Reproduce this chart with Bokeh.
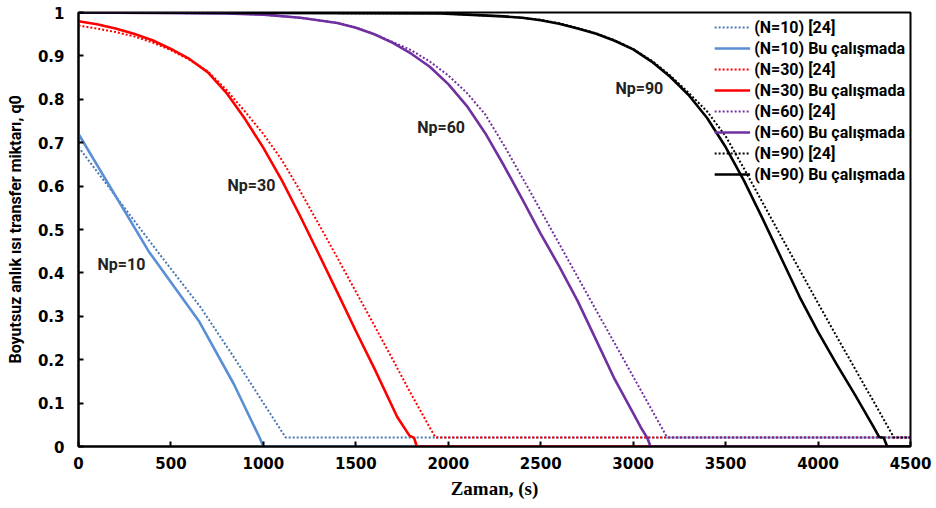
from bokeh.plotting import figure
from bokeh.models import Range1d, FixedTicker, Legend, LegendItem, ColumnDataSource
from bokeh.core.properties import value
from bokeh.embed import file_html
from bokeh.resources import INLINE

# ---------------- data ----------------
x_ticks = [0, 500, 1000, 1500, 2000, 2500, 3000, 3500, 4000, 4500]
y_ticks = [0.0, 0.1, 0.2, 0.3, 0.4, 0.5, 0.6, 0.7, 0.8, 0.9, 1.0]
y_tick_labels = ["0", "0.1", "0.2", "0.3", "0.4", "0.5", "0.6", "0.7", "0.8", "0.9", "1"]

# N=10
t10_ref = [0, 426, 660, 840, 1120, 4500]
q10_ref = [0.69, 0.45, 0.321, 0.206, 0.021, 0.021]
t10 = [0, 379, 650, 840, 980, 1000, 4500]
q10 = [0.72, 0.45, 0.29, 0.144, 0.02, 0.0, 0.0]

# N=30
t30_ref = [0, 100, 200, 300, 400, 500, 600, 700, 800, 900, 1000, 1100, 1200, 1300, 1400,
           1500, 1600, 1700, 1800, 1930, 4500]
q30_ref = [0.97, 0.963, 0.955, 0.945, 0.931, 0.913, 0.891, 0.864, 0.822, 0.772, 0.72, 0.66,
           0.588, 0.512, 0.435, 0.357, 0.279, 0.20, 0.12, 0.021, 0.021]
t30 = [0, 100, 200, 300, 400, 500, 600, 700, 800, 900, 1000, 1100, 1200, 1300, 1417,
       1500, 1600, 1724, 1790, 1815, 1830, 4500]
q30 = [0.98, 0.973, 0.963, 0.951, 0.936, 0.916, 0.893, 0.862, 0.815, 0.755, 0.688, 0.613,
       0.530, 0.443, 0.340, 0.266, 0.180, 0.068, 0.025, 0.02, 0.0, 0.0]

# N=60
t60_ref = [0, 800, 1000, 1200, 1400, 1500, 1600, 1700, 1800, 1900, 2000, 2100, 2200, 2300,
           2409, 2600, 2800, 3000, 3184, 4500]
q60_ref = [1.0, 0.998, 0.995, 0.988, 0.976, 0.966, 0.95, 0.932, 0.913, 0.887, 0.855, 0.815,
           0.765, 0.695, 0.613, 0.467, 0.314, 0.161, 0.021, 0.021]
t60 = [0, 800, 1000, 1200, 1400, 1500, 1600, 1700, 1800, 1900, 2000, 2100, 2200, 2300,
       2400, 2500, 2600, 2700, 2800, 2900, 3000, 3040, 3076, 3094, 4500]
q60 = [1.0, 0.998, 0.995, 0.988, 0.976, 0.965, 0.95, 0.93, 0.905, 0.875, 0.835, 0.785,
       0.722, 0.648, 0.570, 0.49, 0.415, 0.335, 0.245, 0.155, 0.077, 0.045, 0.02, 0.0, 0.0]

# N=90
t90_ref = [0, 1958, 2300, 2400, 2500, 2600, 2700, 2800, 2900, 3000, 3100, 3200, 3300, 3400,
           3500, 3600, 3700, 3800, 3900, 4000, 4100, 4200, 4300, 4410, 4500]
q90_ref = [1.0, 0.998, 0.991, 0.988, 0.983, 0.975, 0.964, 0.952, 0.936, 0.916, 0.889, 0.855,
           0.815, 0.772, 0.715, 0.64, 0.562, 0.484, 0.407, 0.33, 0.254, 0.179, 0.104,
           0.021, 0.021]
t90 = [0, 1958, 2300, 2400, 2500, 2600, 2700, 2800, 2900, 3000, 3100, 3200, 3300, 3400,
       3500, 3600, 3700, 3800, 3900, 4000, 4100, 4200, 4300, 4330, 4355, 4374, 4500]
q90 = [1.0, 0.998, 0.991, 0.988, 0.982, 0.974, 0.963, 0.951, 0.935, 0.915, 0.887, 0.852,
       0.81, 0.757, 0.69, 0.612, 0.525, 0.435, 0.345, 0.264, 0.19, 0.119, 0.045,
       0.022, 0.02, 0.0, 0.0]

series = [
    ("(N=10) [24]", t10_ref, q10_ref, "#4A76B0", "dotted"),
    ("(N=10) Bu çalışmada", t10, q10, "#5A8FD6", "solid"),
    ("(N=30) [24]", t30_ref, q30_ref, "#FF0000", "dotted"),
    ("(N=30) Bu çalışmada", t30, q30, "#FF0000", "solid"),
    ("(N=60) [24]", t60_ref, q60_ref, "#7030A0", "dotted"),
    ("(N=60) Bu çalışmada", t60, q60, "#7030A0", "solid"),
    ("(N=90) [24]", t90_ref, q90_ref, "#000000", "dotted"),
    ("(N=90) Bu çalışmada", t90, q90, "#000000", "solid"),
]

ann_text = ["Np=10", "Np=30", "Np=60", "Np=90"]
ann_x = [103, 806, 1832, 2904]
ann_y = [0.42, 0.601, 0.736, 0.824]

# ---------------- figure ----------------
p = figure(width=936, height=508, output_backend="svg", toolbar_location=None,
           x_range=Range1d(0, 4500), y_range=Range1d(0, 1),
           min_border_left=78, min_border_right=26, min_border_top=12, min_border_bottom=62)
p.background_fill_color = "white"
p.border_fill_color = "white"
p.xgrid.visible = False
p.ygrid.visible = False
p.outline_line_color = "black"
p.outline_line_width = 2
p.outline_line_alpha = 1

p.xaxis.ticker = FixedTicker(ticks=x_ticks)
p.yaxis.ticker = FixedTicker(ticks=y_ticks)
p.yaxis.major_label_overrides = {t: s for t, s in zip(y_ticks, y_tick_labels)}

for ax in (p.xaxis[0], p.yaxis[0]):
    ax.axis_line_width = 2
    ax.axis_line_color = "black"
    ax.major_tick_in = 5
    ax.major_tick_out = 0
    ax.major_tick_line_width = 2
    ax.major_tick_line_color = "black"
    ax.minor_tick_line_color = None
    ax.major_label_text_font = "DejaVu Sans"
    ax.major_label_text_font_style = "bold"
    ax.major_label_text_font_size = "15px"
    ax.major_label_text_color = "black"

p.yaxis.major_label_standoff = 14
p.xaxis.major_label_standoff = 10

p.yaxis.axis_label = "Boyutsuz anlık ısı transfer miktarı, q0"
p.yaxis.axis_label_text_font = "Roboto"
p.yaxis.axis_label_text_font_style = "bold"
p.yaxis.axis_label_text_font_size = "16px"
p.yaxis.axis_label_text_color = "black"
p.yaxis.axis_label_standoff = 10

p.xaxis.axis_label = "Zaman, (s)"
p.xaxis.axis_label_text_font = "Liberation Serif"
p.xaxis.axis_label_text_font_style = "bold"
p.xaxis.axis_label_text_font_size = "19px"
p.xaxis.axis_label_text_color = "black"
p.xaxis.axis_label_standoff = 6

items = []
for name, t, q, color, dash in series:
    src = ColumnDataSource(dict(t=t, q=q))
    if dash == "dotted":
        r = p.line("t", "q", source=src, line_color=color, line_width=2, line_dash="2 2")
    else:
        r = p.line("t", "q", source=src, line_color=color, line_width=2.6,
                   line_join="round")
    items.append(LegendItem(label=name, renderers=[r]))

ann_src = ColumnDataSource(dict(x=ann_x, y=ann_y, text=ann_text))
p.text("x", "y", text="text", source=ann_src, text_font=value("Roboto"),
       text_font_style="bold", text_font_size="16px", text_color="#222222",
       text_align="left", text_baseline="middle")

legend = Legend(items=items, location="top_right")
legend.label_text_font = "Roboto"
legend.label_text_font_style = "bold"
legend.label_text_font_size = "16px"
legend.label_text_color = "black"
legend.glyph_width = 36
legend.glyph_height = 20
legend.label_height = 20
legend.label_standoff = 4
legend.spacing = 1
legend.padding = 5
legend.margin = 0
legend.border_line_alpha = 0
legend.background_fill_alpha = 0
p.add_layout(legend)

open("out.html", "w").write(file_html(p, INLINE))
